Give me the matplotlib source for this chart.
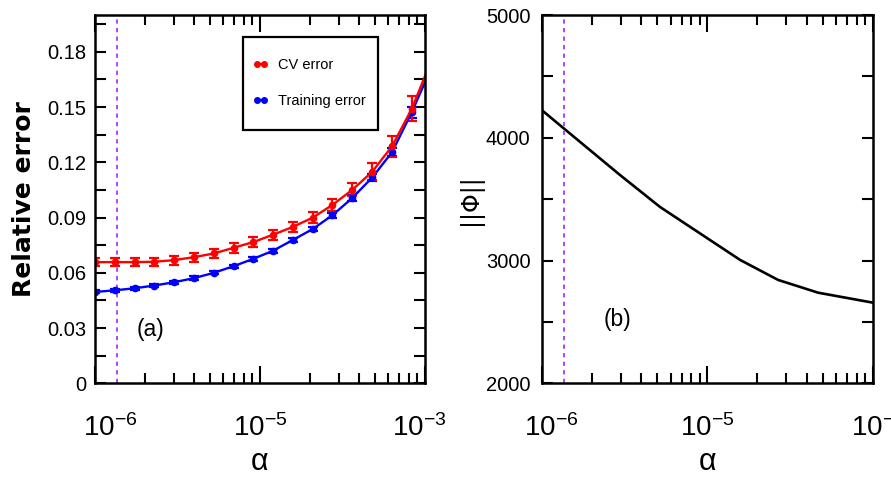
import matplotlib
matplotlib.use("Agg")
import matplotlib.pyplot as plt
from matplotlib import font_manager
from matplotlib.lines import Line2D
from matplotlib.patches import Rectangle
from matplotlib.transforms import ScaledTranslation
from matplotlib.ticker import FixedLocator, NullFormatter, MultipleLocator, FuncFormatter

# pick a narrow sans for the tick labels / legend
_available = {f.name for f in font_manager.fontManager.ttflist}
_narrow = next((f for f in ["Liberation Sans Narrow", "DejaVu Sans Condensed",
                            "Liberation Sans", "DejaVu Sans"] if f in _available),
               "DejaVu Sans")

plt.rcParams["font.family"] = [_narrow, "DejaVu Sans"]
plt.rcParams["mathtext.fontset"] = "custom"
plt.rcParams["mathtext.rm"] = _narrow
plt.rcParams["mathtext.it"] = _narrow
plt.rcParams["mathtext.bf"] = _narrow

# ---------------- data ----------------
alpha = [1.00e-6, 1.32e-6, 1.74e-6, 2.29e-6, 3.02e-6, 3.98e-6, 5.25e-6,
         6.92e-6, 9.12e-6, 1.20e-5, 1.58e-5, 2.09e-5, 2.75e-5, 3.63e-5,
         4.79e-5, 6.31e-5, 8.32e-5, 1.10e-4]
cv_err = [0.0658, 0.0658, 0.0658, 0.0660, 0.0669, 0.0685, 0.0705, 0.0736,
          0.0767, 0.0807, 0.0849, 0.0900, 0.0969, 0.1051, 0.1149, 0.1287,
          0.1491, 0.1760]
cv_sd = [0.0023, 0.0023, 0.0023, 0.0023, 0.0024, 0.0024, 0.0025, 0.0026,
         0.0027, 0.0028, 0.0029, 0.0030, 0.0032, 0.0036, 0.0045, 0.0058,
         0.0068, 0.0075]
train_err = [0.0496, 0.0505, 0.0516, 0.0531, 0.0549, 0.0571, 0.0600, 0.0636,
             0.0676, 0.0720, 0.0778, 0.0838, 0.0913, 0.1007, 0.1118, 0.1255,
             0.1473, 0.1720]
train_sd = [0.0008, 0.0008, 0.0008, 0.0008, 0.0008, 0.0009, 0.0009, 0.0009,
            0.0010, 0.0010, 0.0011, 0.0012, 0.0013, 0.0015, 0.0018, 0.0022,
            0.0030, 0.0035]

alpha_phi = [1.00e-6, 1.38e-6, 2.97e-6, 5.19e-6, 1.58e-5, 2.68e-5, 4.68e-5, 1.00e-4]
phi_norm = [4226, 4069, 3697, 3436, 3005, 2842, 2738, 2657]

alpha_opt = 1.36e-6

x_tick_pos = [1e-6, 1e-5, 1e-4]
x_tick_labels = [r"$10^{-6}$", r"$10^{-5}$", r"$10^{-3}$"]

RED = "#ff0000"
BLUE = "#0000ff"
VIOLET = "#b048f0"

fig = plt.figure(figsize=(8.91, 4.82), dpi=100)
ax1 = fig.add_axes([0.1066, 0.2048, 0.3704, 0.764])
ax2 = fig.add_axes([0.6080, 0.2048, 0.3715, 0.764])

minor_x = [k * 10.0 ** e for e in (-6, -5) for k in range(2, 10)]


def style_axes(ax, label_shifts):
    ax.set_xscale("log")
    ax.set_xlim(1e-6, 1e-4)
    ax.xaxis.set_major_locator(FixedLocator(x_tick_pos))
    ax.set_xticklabels(x_tick_labels)
    ax.xaxis.set_minor_locator(FixedLocator(minor_x))
    ax.xaxis.set_minor_formatter(NullFormatter())
    for s in ax.spines.values():
        s.set_linewidth(1.8)
    ax.tick_params(which="both", direction="in", top=True, right=True, width=1.5)
    ax.tick_params(axis="y", which="both", length=8, labelsize=14.5, pad=6)
    ax.tick_params(axis="x", which="major", length=12, labelsize=20, pad=22)
    ax.tick_params(axis="x", which="minor", length=7)
    ax.set_xlabel("α", fontsize=22, labelpad=4)
    # horizontal nudges (points) for the decade labels
    for lbl, dx in zip(ax.get_xticklabels(), label_shifts):
        lbl.set_transform(lbl.get_transform() +
                          ScaledTranslation(dx / 72, 0, fig.dpi_scale_trans))


# -------- panel (a) --------
style_axes(ax1, [11, 0, -4])
ax1.errorbar(alpha, train_err, yerr=train_sd, color=BLUE, lw=1.7, marker="o",
             ms=4.5, capsize=3.5, elinewidth=1.6, capthick=1.6)
ax1.errorbar(alpha, cv_err, yerr=cv_sd, color=RED, lw=1.7, marker="o",
             ms=4.5, capsize=3.5, elinewidth=1.6, capthick=1.6)
ax1.axvline(alpha_opt, color=VIOLET, lw=1.4, ls=(0, (2.2, 2.2)))
ax1.set_ylim(0, 0.2)
ax1.yaxis.set_major_locator(MultipleLocator(0.03))
ax1.yaxis.set_minor_locator(MultipleLocator(0.015))
ax1.yaxis.set_major_formatter(FuncFormatter(lambda v, p: "0" if abs(v) < 1e-9 else f"{v:.2f}"))
ax1.set_ylabel("Relative error", family="DejaVu Sans", fontweight="bold",
               fontsize=18, labelpad=8)
ax1.text(0.168, 0.147, "(a)", transform=ax1.transAxes, fontsize=16.5,
         ha="center", va="center")

# legend: entries without frame, plus a plain rectangular box
handles = [Line2D([], [], color=RED, lw=1.7, marker="o", ms=4),
           Line2D([], [], color=BLUE, lw=1.7, marker="o", ms=4)]
leg = ax1.legend(handles, ["CV error", "Training error"], loc="upper left",
                 bbox_to_anchor=(0.478, 0.882), borderaxespad=0, borderpad=0,
                 fontsize=10.5, numpoints=2, handlelength=1.05, handletextpad=0.7,
                 labelspacing=1.5, frameon=False)
ax1.add_patch(Rectangle((0.4485, 0.6878), 0.4091, 0.2525, transform=ax1.transAxes,
                        facecolor="white", edgecolor="black", lw=1.6, zorder=4))
leg.set_zorder(5)

# -------- panel (b) --------
style_axes(ax2, [7, 0, 4])
ax2.plot(alpha_phi, phi_norm, color="black", lw=1.9)
ax2.axvline(alpha_opt, color=VIOLET, lw=1.4, ls=(0, (2.2, 2.2)))
ax2.set_ylim(2000, 5000)
ax2.yaxis.set_major_locator(MultipleLocator(1000))
ax2.yaxis.set_minor_locator(MultipleLocator(500))
ax2.tick_params(axis="y", which="both", pad=8)
ax2.set_ylabel("||Φ||", family="DejaVu Sans", fontsize=17, labelpad=2)
ax2.text(0.228, 0.172, "(b)", transform=ax2.transAxes, fontsize=16.5,
         ha="center", va="center")

fig.savefig("out.png", dpi=100)
